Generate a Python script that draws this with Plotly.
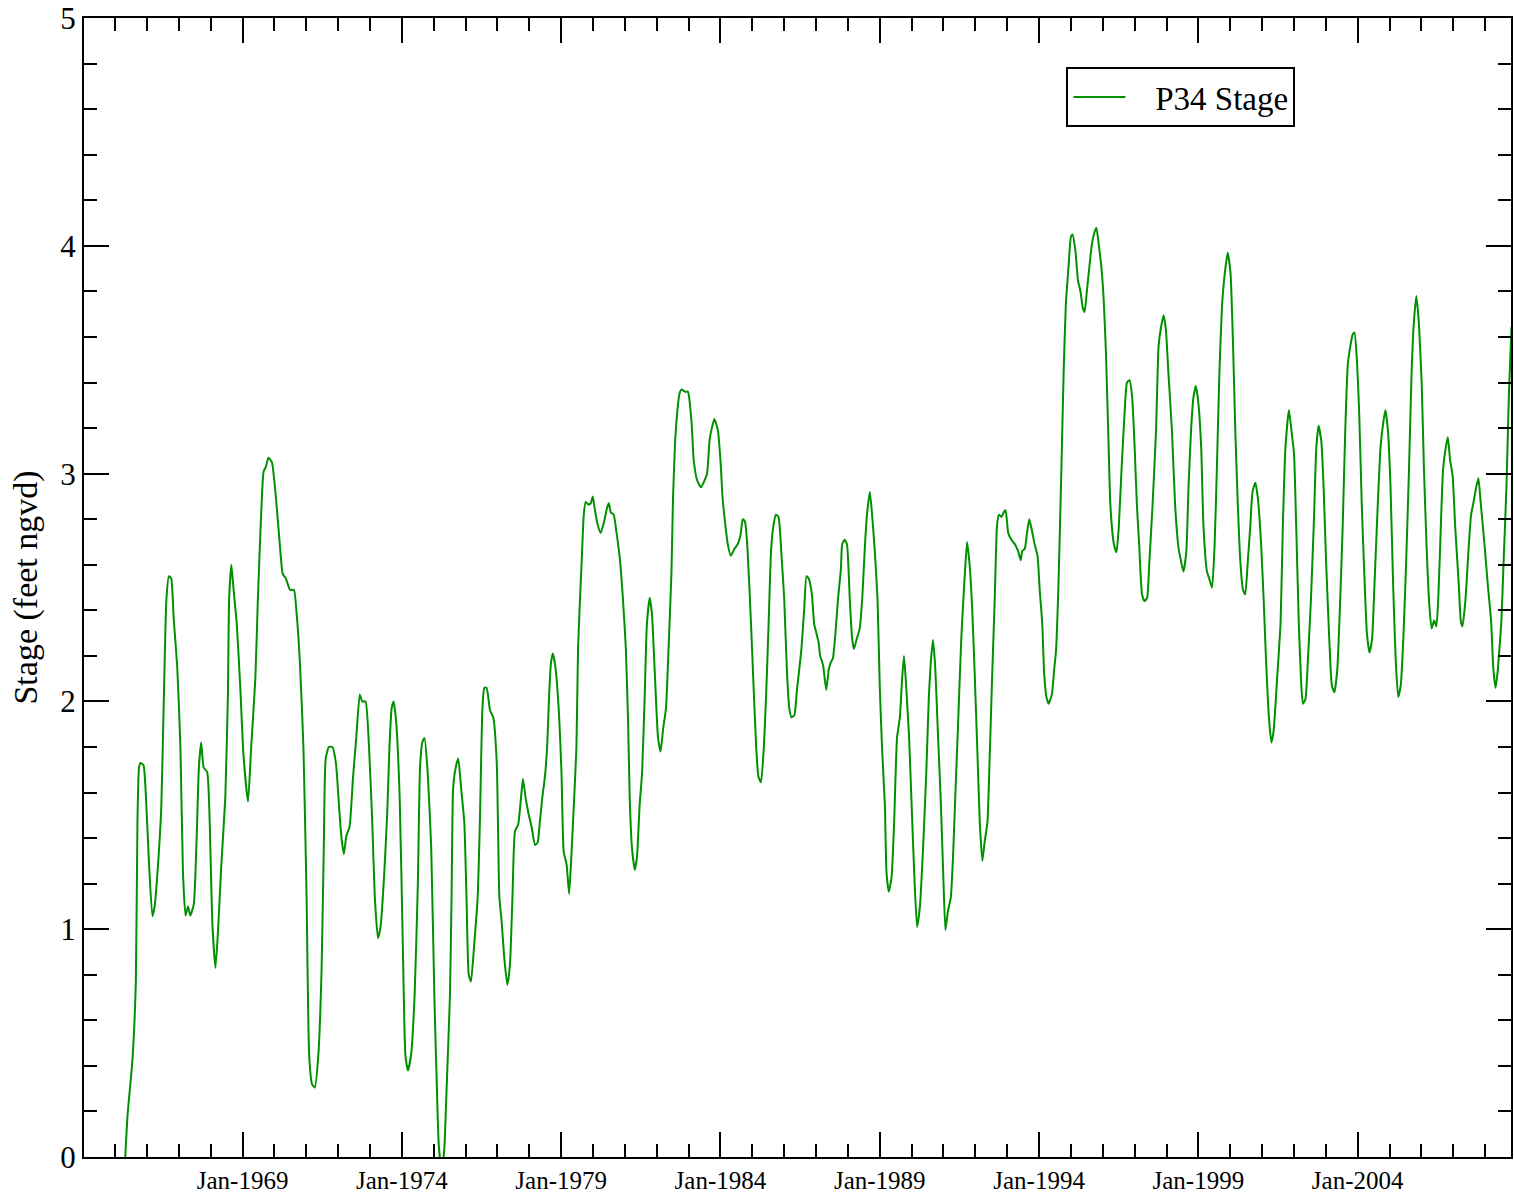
import plotly.graph_objects as go
import pandas as pd

# decimal years and stage values (feet ngvd)
years = [
1965.30,1965.39,1965.54,1965.65,1965.70,1965.75,1965.80,1965.89,1965.96,1966.06,1966.17,1966.24,1966.34,1966.45,1966.53,1966.61,1966.69,1966.76,1966.84,1966.95,
1967.05,1967.13,1967.21,1967.29,1967.36,1967.47,1967.55,1967.63,1967.70,1967.78,1967.89,1967.97,1968.05,1968.15,1968.23,1968.33,1968.46,1968.54,1968.58,1968.65,
1968.72,1968.82,1968.93,1969.03,1969.17,1969.27,1969.40,1969.48,1969.57,1969.66,1969.73,1969.81,1969.92,1970.05,1970.18,1970.26,1970.36,1970.49,1970.61,1970.70,
1970.80,1970.91,1971.01,1971.09,1971.18,1971.27,1971.38,1971.48,1971.55,1971.61,1971.71,1971.82,1971.93,1972.03,1972.10,1972.18,1972.26,1972.36,1972.47,1972.57,
1972.68,1972.76,1972.86,1972.97,1973.07,1973.15,1973.25,1973.33,1973.44,1973.54,1973.61,1973.68,1973.74,1973.82,1973.93,1974.03,1974.11,1974.19,1974.29,1974.40,
1974.50,1974.57,1974.64,1974.71,1974.81,1974.92,1975.02,1975.09,1975.16,1975.25,1975.33,1975.41,1975.51,1975.56,1975.61,1975.69,1975.77,1975.86,1975.96,1976.03,
1976.10,1976.17,1976.27,1976.38,1976.45,1976.53,1976.59,1976.66,1976.77,1976.87,1976.98,1977.06,1977.13,1977.21,1977.31,1977.39,1977.47,1977.55,1977.65,1977.74,
1977.80,1977.88,1977.97,1978.07,1978.18,1978.26,1978.33,1978.41,1978.49,1978.56,1978.62,1978.68,1978.74,1978.82,1978.93,1979.01,1979.08,1979.17,1979.25,1979.32,
1979.41,1979.48,1979.53,1979.58,1979.64,1979.71,1979.77,1979.85,1979.93,1979.99,1980.05,1980.14,1980.24,1980.35,1980.44,1980.50,1980.56,1980.65,1980.73,1980.84,
1980.94,1981.03,1981.10,1981.15,1981.22,1981.31,1981.38,1981.46,1981.54,1981.62,1981.69,1981.78,1981.85,1981.93,1982.04,1982.12,1982.20,1982.29,1982.37,1982.46,
1982.51,1982.58,1982.65,1982.71,1982.78,1982.88,1982.98,1983.03,1983.10,1983.16,1983.27,1983.39,1983.50,1983.58,1983.66,1983.73,1983.81,1983.92,1984.00,1984.07,
1984.15,1984.23,1984.33,1984.44,1984.54,1984.63,1984.70,1984.77,1984.85,1984.96,1985.04,1985.12,1985.19,1985.27,1985.36,1985.43,1985.51,1985.59,1985.67,1985.74,
1985.82,1985.92,1986.00,1986.09,1986.16,1986.23,1986.32,1986.40,1986.54,1986.63,1986.70,1986.77,1986.87,1986.94,1987.01,1987.08,1987.13,1987.22,1987.32,1987.40,
1987.46,1987.53,1987.61,1987.69,1987.78,1987.82,1987.90,1987.97,1988.06,1988.13,1988.19,1988.27,1988.37,1988.45,1988.53,1988.60,1988.69,1988.76,1988.84,1988.93,
1989.00,1989.07,1989.16,1989.21,1989.28,1989.37,1989.45,1989.54,1989.63,1989.70,1989.76,1989.83,1989.92,1989.99,1990.08,1990.17,1990.26,1990.36,1990.46,1990.54,
1990.60,1990.67,1990.74,1990.83,1990.91,1990.99,1991.06,1991.14,1991.23,1991.30,1991.37,1991.46,1991.56,1991.67,1991.74,1991.82,1991.90,1991.98,1992.06,1992.14,
1992.22,1992.29,1992.38,1992.45,1992.53,1992.61,1992.68,1992.74,1992.82,1992.89,1992.95,1993.03,1993.13,1993.24,1993.34,1993.42,1993.47,1993.55,1993.62,1993.69,
1993.76,1993.86,1993.95,1994.02,1994.10,1994.16,1994.23,1994.30,1994.40,1994.48,1994.53,1994.61,1994.70,1994.77,1994.84,1994.92,1995.00,1995.05,1995.14,1995.22,
1995.30,1995.37,1995.43,1995.50,1995.58,1995.66,1995.74,1995.80,1995.87,1995.96,1996.03,1996.10,1996.17,1996.24,1996.35,1996.43,1996.50,1996.59,1996.69,1996.76,
1996.84,1996.92,1997.00,1997.07,1997.14,1997.23,1997.31,1997.39,1997.46,1997.56,1997.67,1997.75,1997.83,1997.91,1997.98,1998.06,1998.17,1998.27,1998.38,1998.45,
1998.53,1998.62,1998.69,1998.77,1998.84,1998.92,1999.00,1999.09,1999.16,1999.27,1999.34,1999.43,1999.51,1999.58,1999.66,1999.74,1999.83,1999.92,2000.01,2000.09,
2000.16,2000.24,2000.32,2000.40,2000.47,2000.55,2000.63,2000.70,2000.79,2000.87,2000.97,2001.05,2001.12,2001.21,2001.29,2001.36,2001.47,2001.58,2001.65,2001.73,
2001.84,2001.92,2002.00,2002.07,2002.15,2002.22,2002.28,2002.36,2002.44,2002.53,2002.62,2002.70,2002.77,2002.86,2002.93,2003.01,2003.11,2003.19,2003.27,2003.36,
2003.45,2003.53,2003.61,2003.69,2003.77,2003.84,2003.90,2003.98,2004.05,2004.13,2004.22,2004.29,2004.37,2004.45,2004.53,2004.63,2004.72,2004.80,2004.87,2004.95,
2005.03,2005.11,2005.19,2005.27,2005.35,2005.43,2005.52,2005.61,2005.69,2005.76,2005.84,2005.92,2006.01,2006.08,2006.16,2006.24,2006.32,2006.40,2006.47,2006.53,
2006.61,2006.68,2006.77,2006.83,2006.90,2006.98,2007.06,2007.17,2007.24,2007.29,2007.38,2007.49,2007.56,2007.63,2007.72,2007.79,2007.87,2007.98,2008.08,2008.19,
2008.26,2008.33,2008.40,2008.51,2008.58,2008.67,2008.75,2008.83]

stage = [
-0.05,0.185,0.42,0.77,1.47,1.71,1.73,1.72,1.60,1.30,1.057,1.10,1.27,1.54,2.02,2.45,2.55,2.54,2.36,2.15,
1.80,1.25,1.06,1.10,1.06,1.11,1.36,1.71,1.82,1.71,1.69,1.47,1.035,0.83,0.99,1.27,1.58,2.02,2.45,2.60,
2.49,2.34,2.06,1.76,1.56,1.80,2.10,2.45,2.78,3.01,3.03,3.07,3.05,2.89,2.67,2.56,2.54,2.49,2.49,2.38,
2.17,1.80,1.14,0.45,0.32,0.305,0.45,0.82,1.36,1.75,1.80,1.80,1.73,1.54,1.41,1.33,1.41,1.45,1.67,1.84,
2.03,2.00,2.00,1.80,1.47,1.14,0.96,1.01,1.23,1.51,1.80,1.97,2.00,1.91,1.58,0.93,0.45,0.38,0.45,0.71,
1.19,1.71,1.82,1.84,1.69,1.36,0.71,0.35,0.05,-0.06,0.03,0.32,0.71,1.14,1.62,1.71,1.75,1.62,1.47,1.14,
0.80,0.77,0.93,1.14,1.47,1.97,2.06,2.06,1.96,1.93,1.73,1.14,1.035,0.88,0.756,0.84,1.14,1.43,1.46,1.58,
1.66,1.58,1.51,1.45,1.37,1.38,1.47,1.58,1.67,1.80,2.02,2.17,2.21,2.15,1.95,1.69,1.34,1.285,1.155,1.32,
1.58,1.80,2.23,2.41,2.60,2.82,2.876,2.865,2.87,2.90,2.85,2.78,2.74,2.79,2.85,2.87,2.83,2.82,2.75,2.63,
2.45,2.23,1.91,1.58,1.36,1.26,1.32,1.54,1.69,2.02,2.34,2.455,2.38,2.15,1.84,1.78,1.88,1.97,2.23,2.56,
2.89,3.15,3.28,3.35,3.37,3.36,3.36,3.32,3.21,3.06,2.97,2.94,2.97,3.00,3.15,3.20,3.24,3.19,3.06,2.89,
2.78,2.69,2.64,2.67,2.69,2.73,2.80,2.79,2.67,2.34,2.06,1.80,1.67,1.645,1.80,2.02,2.34,2.67,2.78,2.82,
2.81,2.63,2.45,2.12,1.97,1.93,1.94,2.05,2.23,2.41,2.55,2.54,2.47,2.34,2.30,2.26,2.20,2.16,2.05,2.14,
2.17,2.19,2.30,2.45,2.58,2.69,2.71,2.69,2.45,2.28,2.23,2.27,2.32,2.45,2.67,2.82,2.92,2.82,2.67,2.45,
2.06,1.80,1.54,1.25,1.165,1.23,1.47,1.84,1.93,2.10,2.20,2.06,1.84,1.58,1.25,1.01,1.10,1.36,1.69,2.02,
2.17,2.27,2.15,1.84,1.58,1.25,0.996,1.08,1.14,1.32,1.58,1.91,2.28,2.56,2.70,2.60,2.41,2.12,1.80,1.47,
1.30,1.38,1.47,1.75,2.12,2.45,2.77,2.82,2.81,2.83,2.84,2.74,2.71,2.69,2.66,2.62,2.66,2.67,2.74,2.80,
2.76,2.69,2.64,2.49,2.34,2.12,2.02,1.99,2.03,2.15,2.22,2.52,3.02,3.44,3.745,3.90,4.04,4.05,3.98,3.85,
3.80,3.73,3.71,3.80,3.91,4.01,4.06,4.08,4.01,3.90,3.76,3.53,3.19,2.86,2.69,2.655,2.76,3.02,3.28,3.40,
3.41,3.34,3.11,2.86,2.69,2.47,2.44,2.455,2.61,2.86,3.19,3.56,3.645,3.695,3.63,3.44,3.19,2.86,2.67,2.62,
2.57,2.655,2.94,3.19,3.33,3.385,3.31,3.11,2.77,2.57,2.54,2.50,2.69,3.02,3.44,3.73,3.88,3.97,3.88,3.56,
3.19,2.86,2.61,2.49,2.47,2.61,2.77,2.92,2.96,2.89,2.69,2.44,2.19,1.935,1.82,1.87,2.10,2.35,2.77,3.11,
3.28,3.19,3.09,2.77,2.35,2.10,1.99,2.01,2.19,2.44,2.77,3.11,3.21,3.14,2.94,2.61,2.27,2.07,2.04,2.14,
2.44,2.77,3.19,3.48,3.56,3.61,3.62,3.49,3.26,2.86,2.52,2.30,2.215,2.27,2.52,2.86,3.12,3.22,3.28,3.19,
2.94,2.52,2.19,2.02,2.07,2.27,2.61,3.02,3.44,3.66,3.78,3.66,3.39,3.02,2.69,2.44,2.32,2.355,2.33,2.455,
2.77,3.02,3.12,3.16,3.06,2.99,2.77,2.52,2.35,2.33,2.44,2.69,2.82,2.87,2.94,2.98,2.86,2.69,2.52,2.35,
2.14,2.06,2.14,2.35,2.61,2.94,3.36,3.645]

series_name = "P34 Stage"
y_title = "Stage (feet ngvd)"


def to_date(y):
    base = pd.Timestamp(year=int(y), month=1, day=1)
    return base + pd.Timedelta(days=(y - int(y)) * 365.25)


dates = [to_date(y) for y in years]

FONT = "Liberation Serif"

fig = go.Figure()
fig.add_trace(go.Scatter(
    x=dates, y=stage, mode="lines", name="\u00a0\u00a0\u00a0" + series_name,
    line=dict(color="#009000", width=2, shape="spline", smoothing=0.5),
    showlegend=True,
))

axis_common = dict(
    showline=True, linecolor="black", linewidth=2, mirror="allticks",
    ticks="inside", tickcolor="black", tickwidth=2, ticklen=25,
    showgrid=False, zeroline=False, ticklabeloverflow="allow",
)

fig.update_layout(
    width=1514, height=1195,
    margin=dict(l=84, r=1, t=17, b=36),
    paper_bgcolor="white", plot_bgcolor="white",
    font=dict(family=FONT, color="black"),
    xaxis=dict(
        type="date",
        range=["1964-01-10", "2008-10-24"],
        tick0="1969-01-01", dtick="M60", tickformat="%b-%Y",
        tickfont=dict(size=25, family=FONT),
        minor=dict(ticks="inside", ticklen=13, tickwidth=2, tickcolor="black",
                   dtick="M12", tick0="1964-01-01", showgrid=False),
        **axis_common,
    ),
    yaxis=dict(
        range=[0, 5.0005], tick0=0, dtick=1,
        tickfont=dict(size=31, family=FONT),
        title=dict(text=y_title, font=dict(size=34, family=FONT), standoff=12),
        minor=dict(ticks="inside", ticklen=13, tickwidth=2, tickcolor="black",
                   dtick=0.2, showgrid=False),
        **axis_common,
    ),
    legend=dict(
        x=0.6885, y=0.957, xanchor="left", yanchor="top",
        bgcolor="white", bordercolor="black", borderwidth=2,
        font=dict(size=33, family=FONT),
        itemwidth=52,
    ),
)

fig.write_html(
    "out.html",
    config={"displayModeBar": False},
    post_script="document.body.style.margin='0';document.body.style.overflow='hidden';",
)
